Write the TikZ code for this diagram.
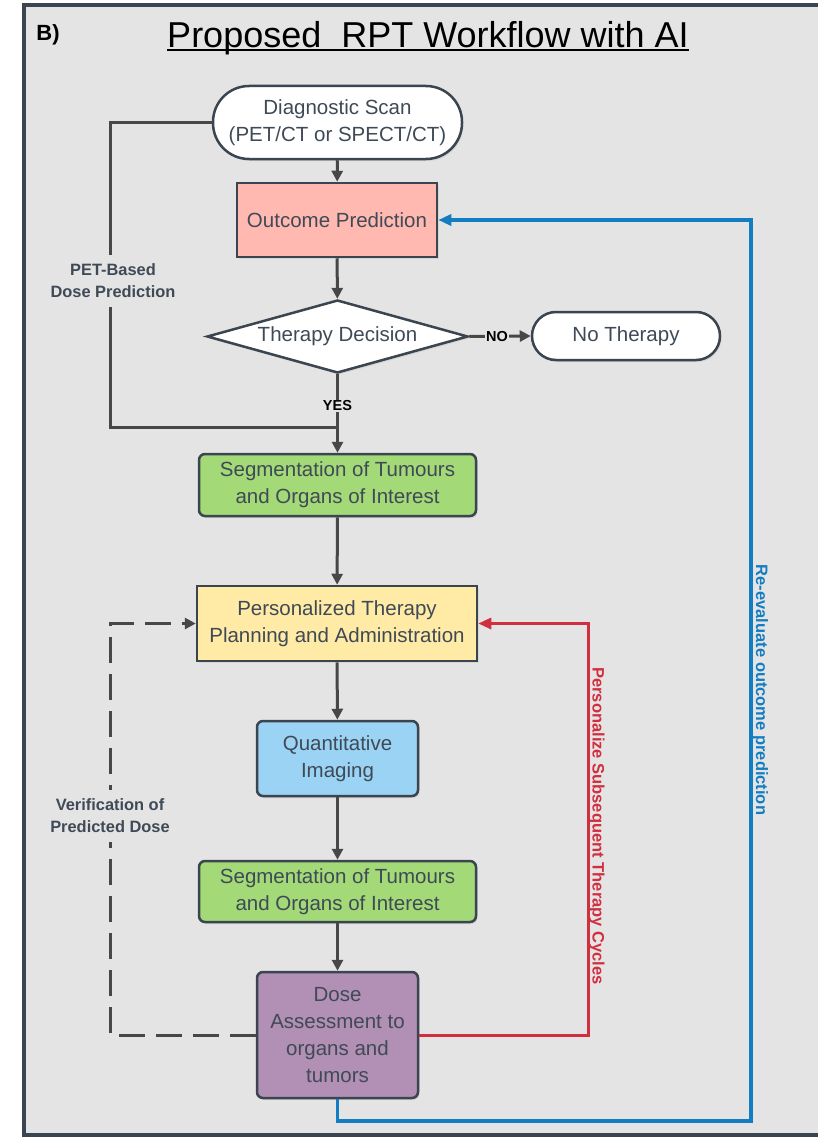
\documentclass[tikz,border=0pt]{standalone}
\usepackage{fontspec}
\setmainfont{Liberation Sans}
\usetikzlibrary{arrows.meta,shapes.geometric,shadows}

\definecolor{panelbg}{HTML}{E4E4E4}
\definecolor{framec}{HTML}{3A4550}
\definecolor{txt}{HTML}{3F4A56}
\definecolor{flowc}{HTML}{474747}
\definecolor{salmon}{HTML}{FFB9B0}
\definecolor{leaf}{HTML}{A3D977}
\definecolor{butter}{HTML}{FFEAA6}
\definecolor{sky}{HTML}{9AD3F4}
\definecolor{mauve}{HTML}{B28FB4}
\definecolor{redline}{HTML}{D12E3F}
\definecolor{blueline}{HTML}{137DC2}

\tikzset{
  box/.style={draw=framec, line width=2.5pt, text=txt, align=center, inner sep=0pt,
    font=\fontsize{20.5}{27}\selectfont,
    drop shadow={shadow xshift=1.5pt, shadow yshift=-2pt, opacity=0.15}},
  roundbox/.style={box, rounded corners=6pt},
  flow/.style={draw=flowc, line width=3pt},
  flowarrow/.style={flow, -{Triangle[length=11pt,width=11pt]}},
  sidelabel/.style={fill=panelbg, text=txt, align=center, inner xsep=2pt, inner ysep=9pt,
    font=\bfseries\fontsize{16.4}{22}\selectfont},
  decision/.style={fill=panelbg, text=black, inner sep=1pt,
    font=\bfseries\fontsize{14.5}{16}\selectfont},
  rotlabel/.style={rotate=-90, inner sep=0pt, font=\bfseries\fontsize{16.5}{18}\selectfont}
}

\begin{document}
\begin{tikzpicture}[x=1pt,y=-1pt]
  % canvas and panel frame
  \useasboundingbox (0,0) rectangle (818,1137);
  \fill[white] (0,0) rectangle (818,1137);
  \fill[panelbg] (23.5,5.5) rectangle (818,1135);
  \draw[framec, line width=4pt] (820,5.5) -- (23.5,5.5) -- (23.5,1135) -- (820,1135);

  % heading
  \node[font=\bfseries\fontsize{22}{24}\selectfont, text=black] (tag) at (48,35) {B)};
  \node[font=\fontsize{36}{40}\selectfont, text=black, inner sep=0pt] (title) at (428,38)
    {Proposed\ \ RPT Workflow with AI};
  \draw[black, line width=1.8pt] ([yshift=-3pt]title.base west) -- ([yshift=-3pt]title.base east);

  % flowchart nodes
  \node[box, fill=white, rounded corners=36pt, minimum width=249pt, minimum height=73pt]
    (diag) at (337.5,122.5) {Diagnostic Scan\\(PET/CT or SPECT/CT)};
  \node[box, fill=salmon, minimum width=200pt, minimum height=74pt]
    (outcome) at (337,220) {Outcome Prediction};
  \node[box, fill=white, diamond, aspect=3.57, minimum width=261pt, minimum height=73pt]
    (decide) at (337.5,336.5) {Therapy Decision};
  \node[box, fill=white, rounded corners=24pt, minimum width=188pt, minimum height=48pt]
    (none) at (626,336) {No Therapy};
  \node[roundbox, fill=leaf, minimum width=277pt, minimum height=62pt]
    (segA) at (337.5,485) {Segmentation of Tumours\\and Organs of Interest};
  \node[box, fill=butter, minimum width=280pt, minimum height=75pt]
    (plan) at (337,623.5) {Personalized Therapy\\Planning and Administration};
  \node[roundbox, fill=sky, minimum width=161pt, minimum height=75pt]
    (quant) at (337.5,758.5) {Quantitative\\Imaging};
  \node[roundbox, fill=leaf, minimum width=277pt, minimum height=61pt]
    (segB) at (337.5,891.5) {Segmentation of Tumours\\and Organs of Interest};
  \node[roundbox, fill=mauve, minimum width=161pt, minimum height=126pt]
    (dose) at (337.5,1035) {Dose\\Assessment to\\organs and\\tumors};

  % helper points for the routed connectors
  \coordinate (petC) at (110,427);
  \coordinate (join) at (337.5,427);
  \coordinate (dashC) at (110,1035);
  \coordinate (redC) at (588,1035);
  \coordinate (blueC) at (751,1121);

  % main flow
  \draw[flowarrow] (diag) -- (outcome);
  \draw[flowarrow] (outcome) -- (decide);
  \draw[flowarrow] (decide.south) -- node[decision, pos=0.4] (yes) {YES} (segA.north);
  \draw[flowarrow] (decide.east) -- node[decision, pos=0.45] (no) {NO} (none.west);
  \draw[flowarrow] (segA) -- (plan);
  \draw[flowarrow] (plan) -- (quant);
  \draw[flowarrow] (quant) -- (segB);
  \draw[flowarrow] (segB) -- (dose);

  % PET-based shortcut
  \draw[flow] (diag.west) -| (petC) -- (join);
  \node[sidelabel] (petlab) at (113,281) {PET-Based\\Dose Prediction};

  % dose verification loop
  \draw[flowarrow, dash pattern=on 26pt off 11pt] (dose.west) -- (dashC) |- (plan.west);
  \node[sidelabel] (verlab) at (110,816) {Verification of\\Predicted Dose};

  % therapy cycle loop
  \draw[draw=redline, line width=3pt, -{Triangle[length=13pt,width=11pt]}]
    (dose.east) -- (redC) |- (plan.east);
  \node[rotlabel, text=redline] (redlab) at (597,826) {Personalize Subsequent Therapy Cycles};

  % outcome re-evaluation loop
  \draw[draw=blueline, line width=3.5pt, -{Triangle[length=13pt,width=11pt]}]
    (dose.south) |- (blueC) |- (outcome.east);
  \node[rotlabel, text=blueline] (bluelab) at (760.5,690) {Re-evaluate outcome prediction};
\end{tikzpicture}
\end{document}
